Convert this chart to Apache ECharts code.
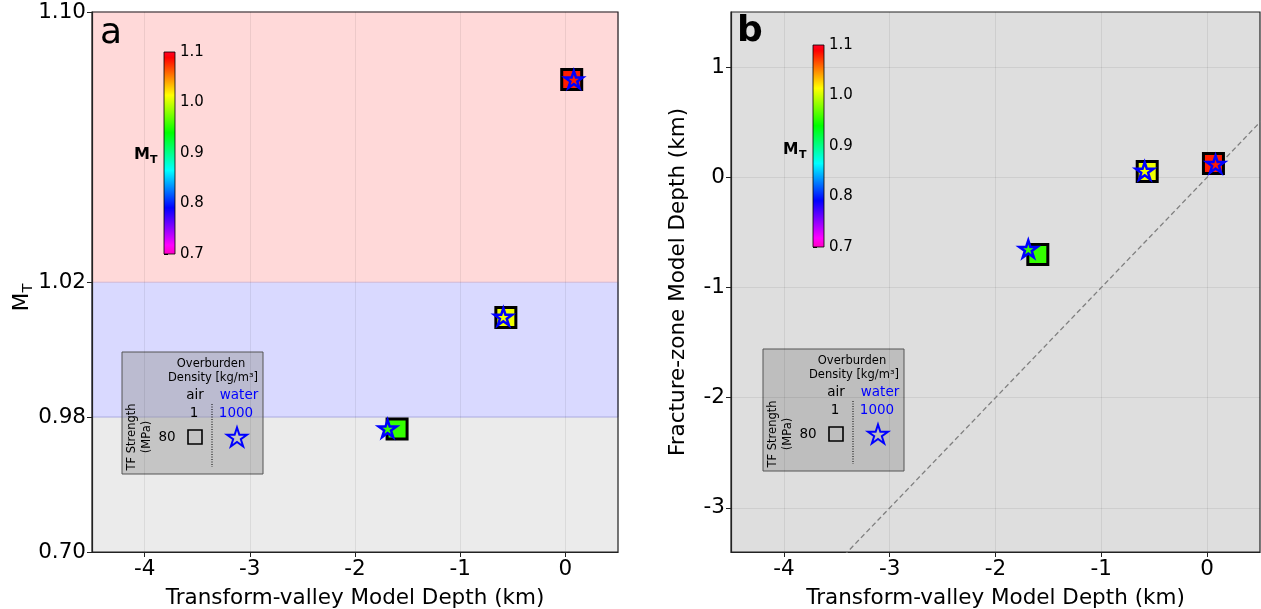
<!DOCTYPE html>
<html><head><meta charset="utf-8">
<script src="https://cdn.jsdelivr.net/npm/echarts@6/dist/echarts.min.js"></script>
<style>html,body{margin:0;padding:0;background:#fff}#c{width:1261px;height:609px}</style>
</head><body><div id="c"></div>
<script>
// ---------------- data ----------------
const tvDepthSquare = [0.06, -0.566, -1.60];   // transform-valley depth (km), air overburden
const tvDepthStar   = [0.08, -0.59, -1.69];    // transform-valley depth (km), water overburden
const mtSquare = [1.08, 1.0095, 0.955];        // M_T, air
const mtStar   = [1.08, 1.0097, 0.956];        // M_T, water
const fzDepthSquare = [0.125, 0.052, -0.70];   // fracture-zone depth (km), air
const fzDepthStar   = [0.12, 0.059, -0.65];    // fracture-zone depth (km), water
const xTicks  = [-4, -3, -2, -1, 0];
const yTicksA = [0.70, 0.98, 1.02, 1.10];
const yTicksB = [-3, -2, -1, 0, 1];
const cbTicks = [0.7, 0.8, 0.9, 1.0, 1.1];
const bandsA  = [[0.70, 0.98], [0.98, 1.02], [1.02, 1.10]];
const oneToOne = [-5, 2];

// ---------------- helpers ----------------
const FONT = 'DejaVu Sans';
const FS = 21.5;
// broken M_T axis: below 0.98 compressed
const BRK = 0.98, SQ = 0.04 / 0.28;
const fA = v => v >= BRK ? v : BRK - (BRK - v) * SQ;
const invA = d => d >= BRK - 1e-9 ? d : BRK - (BRK - d) / SQ;

// reversed gist_rainbow colormap over 0.7..1.1
const GR = [[0, [1, 0, 0.16]], [0.03, [1, 0, 0]], [0.215, [1, 1, 0]], [0.4, [0, 1, 0]],
            [0.586, [0, 1, 1]], [0.77, [0, 0, 1]], [0.954, [1, 0, 1]], [1, [1, 0, 0.75]]];
const rgb = c => 'rgb(' + c.map(x => Math.round(x * 255)).join(',') + ')';
function cmap(v) {
  let t = Math.min(1, Math.max(0, (1.1 - v) / 0.4));
  for (let i = 1; i < GR.length; i++) {
    if (t <= GR[i][0]) {
      const [t0, c0] = GR[i - 1], [t1, c1] = GR[i];
      const f = (t - t0) / (t1 - t0);
      return rgb(c0.map((a, k) => a + (c1[k] - a) * f));
    }
  }
  return rgb(GR[GR.length - 1][1]);
}
function starPts(R) {
  const p = [];
  for (let i = 0; i < 10; i++) {
    const r = i % 2 ? R * 0.382 : R, a = -Math.PI / 2 + i * Math.PI / 5;
    p.push([r * Math.cos(a), r * Math.sin(a)]);
  }
  return p;
}
const STAR = 'path://M' + starPts(50).map(p => p[0].toFixed(2) + ',' + p[1].toFixed(2)).join('L') + 'Z';

const GRIDC = 'rgba(0,0,0,0.07)';
function xAxisMain(idx) {
  return {
    type: 'value', gridIndex: idx, min: -4.5, max: 0.5,
    name: 'Transform-valley Model Depth (km)', nameLocation: 'middle', nameGap: 35,
    nameTextStyle: {fontSize: FS, color: '#000', fontFamily: FONT},
    axisLine: {show: true, onZero: false, lineStyle: {color: '#222', width: 1.2}},
    axisTick: {show: true, length: 5, lineStyle: {color: '#222'}, customValues: xTicks},
    axisLabel: {fontSize: FS, color: '#000', margin: 6, customValues: xTicks, fontFamily: FONT},
    splitLine: {show: true, lineStyle: {color: GRIDC, width: 1}}
  };
}
function cbAxes(idx) {
  return [
    {type: 'value', gridIndex: idx, min: 0, max: 1, show: false},
    {type: 'value', gridIndex: idx, min: 0.7, max: 1.1, position: 'right',
     axisLine: {show: false},
     axisTick: {show: true, length: 4, lineStyle: {color: '#000'}, customValues: cbTicks},
     axisLabel: {fontSize: 15, color: '#000', margin: 5, customValues: cbTicks,
                 formatter: v => v.toFixed(1), fontFamily: FONT},
     splitLine: {show: false}}
  ];
}
const cbGrad = new echarts.graphic.LinearGradient(0, 0, 0, 1,
  GR.map(([t, c]) => ({offset: t, color: rgb(c)})));
function cbSeries(idx) {
  return {
    type: 'custom', xAxisIndex: idx, yAxisIndex: idx, silent: true, z: 5,
    data: [[0.5, 0.9]],
    renderItem: (params) => ({
      type: 'rect',
      shape: {x: params.coordSys.x, y: params.coordSys.y, width: params.coordSys.width, height: params.coordSys.height},
      style: {fill: cbGrad, stroke: '#000', lineWidth: 0.8}
    })
  };
}
const TXT = (x, y, text, size, opts) => Object.assign({
  type: 'text', x: x, y: y, z: 60, silent: true,
  style: Object.assign({text: text, fontSize: size, fontFamily: FONT, fill: '#000',
          align: 'center', verticalAlign: 'middle'}, (opts && opts.style) || {})
}, (opts && opts.el) || {});

function legendBox(x0, y0) {
  const T = (x, y, text, size, color, el) => TXT(x, y, text, size, {style: {fill: color || '#000'}, el: el});
  return {
    type: 'group', x: x0, y: y0, z: 50, silent: true,
    children: [
      {type: 'rect', shape: {x: 0, y: 0, width: 141, height: 122},
       style: {fill: 'rgba(150,150,150,0.45)', stroke: '#555', lineWidth: 1}},
      T(89, 12, 'Overburden', 11.5),
      T(91, 26, 'Density [kg/m³]', 11.5),
      T(73, 43, 'air', 13.5),
      T(117, 43, 'water', 13.5, '#0000ff'),
      T(72, 61, '1', 13.5),
      T(114, 61, '1000', 13.5, '#0000ff'),
      T(45, 85, '80', 13.5),
      {type: 'rect', shape: {x: 66, y: 78, width: 14, height: 14},
       style: {fill: 'transparent', stroke: '#000', lineWidth: 1.6}},
      {type: 'polygon', x: 115, y: 86, shape: {points: starPts(10.5)},
       style: {fill: 'transparent', stroke: '#0000ff', lineWidth: 2}},
      {type: 'line', shape: {x1: 90, y1: 52, x2: 90, y2: 115},
       style: {stroke: '#000', lineWidth: 1, lineDash: [1, 1.5]}},
      T(10, 85, 'TF Strength', 11.5, '#000', {rotation: Math.PI / 2}),
      T(25, 85, '(MPa)', 11.5, '#000', {rotation: Math.PI / 2})
    ]
  };
}

const bandColors = ['#ebebeb', '#d9d9ff', '#ffd9d9'];
const bandStroke = ['#ebebeb', '#aaaae0', '#e8c4d2'];
const BOLD = {style: {fontWeight: 'bold', align: 'left'}};
const GB = {outerBoundsMode: 'none', containLabel: false};

const option = {
  animation: false,
  textStyle: {fontFamily: FONT},
  grid: [
    Object.assign({left: 92, top: 12, width: 526, height: 540, show: true, backgroundColor: 'transparent', borderColor: '#222', borderWidth: 1.2}, GB),
    Object.assign({left: 731, top: 12, width: 529, height: 540, show: true, backgroundColor: '#dedede', borderColor: '#222', borderWidth: 1.2}, GB),
    Object.assign({left: 164, top: 52, width: 11, height: 202}, GB),
    Object.assign({left: 813, top: 45, width: 11, height: 202}, GB)
  ],
  xAxis: [xAxisMain(0), xAxisMain(1), cbAxes(2)[0], cbAxes(3)[0]],
  yAxis: [
    {type: 'value', gridIndex: 0, min: fA(0.70), max: 1.10,
     axisLine: {show: true, onZero: false, lineStyle: {color: '#222', width: 1.2}},
     axisTick: {show: true, length: 5, lineStyle: {color: '#222'}, customValues: yTicksA.map(fA)},
     axisLabel: {fontSize: FS, color: '#000', margin: 6, customValues: yTicksA.map(fA),
                 formatter: v => invA(v).toFixed(2), fontFamily: FONT},
     splitLine: {show: false}},
    {type: 'value', gridIndex: 1, min: -3.4, max: 1.5,
     name: 'Fracture-zone Model Depth (km)', nameLocation: 'middle', nameGap: 42,
     nameTextStyle: {fontSize: FS, color: '#000', fontFamily: FONT},
     axisLine: {show: true, onZero: false, lineStyle: {color: '#222', width: 1.2}},
     axisTick: {show: true, length: 5, lineStyle: {color: '#222'}, customValues: yTicksB},
     axisLabel: {fontSize: FS, color: '#000', margin: 6, customValues: yTicksB, fontFamily: FONT},
     splitLine: {show: true, lineStyle: {color: GRIDC, width: 1}}},
    cbAxes(2)[1], cbAxes(3)[1]
  ],
  graphic: [
    TXT(100, 16, 'a', 36, {style: {align: 'left', verticalAlign: 'top'}}),
    TXT(737, 14, 'b', 36, {style: {align: 'left', verticalAlign: 'top', fontWeight: 'bold'}}),
    // y-axis name of panel a: M with subscript T, rotated
    TXT(22, 302, 'M', FS, {el: {rotation: Math.PI / 2}}),
    TXT(28, 288, 'T', 14.5, {el: {rotation: Math.PI / 2}}),
    // colourbar labels
    TXT(134, 155, 'M', 16, BOLD),
    TXT(150, 160, 'T', 11, BOLD),
    TXT(783, 150, 'M', 15.5, BOLD),
    TXT(799, 155, 'T', 11, BOLD),
    legendBox(122, 352),
    legendBox(763, 349)
  ],
  series: [
    // background bands of panel a
    {type: 'custom', xAxisIndex: 0, yAxisIndex: 0, z: -1, silent: true,
     data: bandsA.map((b, i) => [b[0], b[1], i]),
     renderItem: (params, api) => {
       const cs = params.coordSys;
       const i = api.value(2);
       const yTop = api.coord([0, fA(api.value(1))])[1];
       const yBot = api.coord([0, fA(api.value(0))])[1];
       return {type: 'rect', shape: {x: cs.x, y: yTop, width: cs.width, height: yBot - yTop},
               style: {fill: bandColors[i], stroke: bandStroke[i], lineWidth: 1}};
     }},
    // panel a markers
    {type: 'scatter', xAxisIndex: 0, yAxisIndex: 0, z: 3, symbol: 'rect', symbolSize: 20,
     data: tvDepthSquare.map((x, i) => ({value: [x, fA(mtSquare[i])], itemStyle: {color: cmap(mtSquare[i])}})),
     itemStyle: {borderColor: '#000', borderWidth: 3, opacity: 1}},
    {type: 'scatter', xAxisIndex: 0, yAxisIndex: 0, z: 4, symbol: STAR, symbolSize: 18, symbolKeepAspect: true,
     data: tvDepthStar.map((x, i) => ({value: [x, fA(mtStar[i])], itemStyle: {color: cmap(mtStar[i])}})),
     itemStyle: {borderColor: '#0000ff', borderWidth: 2.5, opacity: 1}},
    // panel b 1:1 line
    {type: 'line', xAxisIndex: 1, yAxisIndex: 1, z: 2, symbol: 'none', silent: true, clip: true,
     data: oneToOne.map(v => [v, v]),
     lineStyle: {color: '#7f7f7f', width: 1.3, type: [5, 3]}},
    // panel b markers
    {type: 'scatter', xAxisIndex: 1, yAxisIndex: 1, z: 3, symbol: 'rect', symbolSize: 20,
     data: tvDepthSquare.map((x, i) => ({value: [x, fzDepthSquare[i]], itemStyle: {color: cmap(mtSquare[i])}})),
     itemStyle: {borderColor: '#000', borderWidth: 3, opacity: 1}},
    {type: 'scatter', xAxisIndex: 1, yAxisIndex: 1, z: 4, symbol: STAR, symbolSize: 18, symbolKeepAspect: true,
     data: tvDepthStar.map((x, i) => ({value: [x, fzDepthStar[i]], itemStyle: {color: cmap(mtStar[i])}})),
     itemStyle: {borderColor: '#0000ff', borderWidth: 2.5, opacity: 1}},
    cbSeries(2), cbSeries(3)
  ]
};
echarts.init(document.getElementById('c'), null, {renderer: 'canvas'}).setOption(option);
</script></body></html>
